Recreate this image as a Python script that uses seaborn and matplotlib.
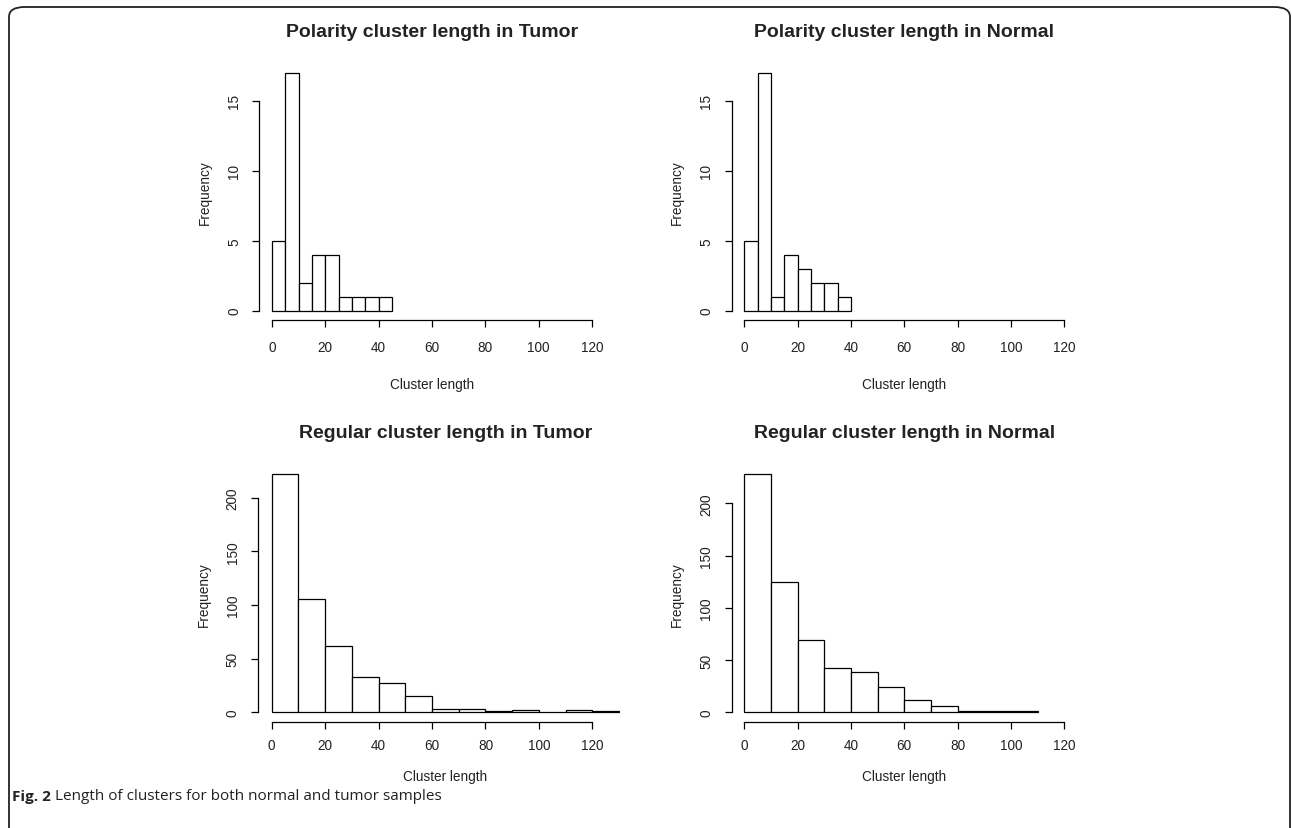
import matplotlib
matplotlib.use("Agg")
import matplotlib.pyplot as plt
import seaborn as sns
from matplotlib.patches import FancyBboxPatch

sns.set_theme(style="white")
plt.rcParams['font.family'] = ['Liberation Sans', 'DejaVu Sans']

# histogram data
polarity_edges = [0, 5, 10, 15, 20, 25, 30, 35, 40, 45]
polarity_tumor = [5, 17, 2, 4, 4, 1, 1, 1, 1]
polarity_normal_edges = [0, 5, 10, 15, 20, 25, 30, 35, 40]
polarity_normal = [5, 17, 1, 4, 3, 2, 2, 1]

regular_tumor_edges = [0, 10, 20, 30, 40, 50, 60, 70, 80, 90, 100, 110, 120, 130]
regular_tumor = [222, 106, 62, 33, 27, 15, 3, 3, 1, 2, 0, 2, 1]
regular_normal_edges = [0, 10, 20, 30, 40, 50, 60, 70, 80, 90, 100, 110]
regular_normal = [228, 125, 69, 42, 39, 24, 12, 6, 1, 1, 1]

x_ticks = [0, 20, 40, 60, 80, 100, 120]
polarity_yticks = [0, 5, 10, 15]
regular_yticks = [0, 50, 100, 150, 200]

W, H = 1292, 829
fig = plt.figure(figsize=(W / 100, H / 100), dpi=100)


def px_axes(l, r, t, b):
    return fig.add_axes([l / W, 1 - b / H, (r - l) / W, (b - t) / H])


def draw_hist(ax, edges, counts, xlim, yticks, title, xpad=9, xlabelpad=17):
    lefts = edges[:-1]
    sns.histplot(x=lefts, weights=counts, bins=edges, ax=ax, color='white',
                 edgecolor='black', linewidth=0.9, alpha=1)
    ymax = max(counts)
    ax.set_xlim(xlim[0] - 0.04 * (xlim[1] - xlim[0]), xlim[1] + 0.04 * (xlim[1] - xlim[0]))
    ax.set_ylim(-0.04 * ymax, ymax * 1.04)
    for s in ['top', 'right']:
        ax.spines[s].set_visible(False)
    for s in ['left', 'bottom']:
        ax.spines[s].set_color('black')
        ax.spines[s].set_linewidth(0.9)
    ax.spines['bottom'].set_bounds(x_ticks[0], x_ticks[-1])
    ax.spines['left'].set_bounds(yticks[0], yticks[-1])
    ax.set_xticks(x_ticks)
    ax.set_yticks(yticks)
    ax.tick_params(axis='both', direction='out', length=5, width=0.9, color='black',
                   labelsize=9.8, labelcolor='#222222', bottom=True, left=True)
    ax.tick_params(axis='x', pad=xpad)
    ax.tick_params(axis='y', pad=8)
    for lab in ax.get_yticklabels():
        lab.set_rotation(90)
        lab.set_va('center')
        lab.set_ha('right')
    ax.set_xlabel('Cluster length', fontsize=9.8, color='#222222', labelpad=xlabelpad)
    ax.set_ylabel('Frequency', fontsize=9.8, color='#222222', labelpad=11)
    ax.grid(False)
    ax.set_facecolor('white')
    pos = ax.get_position()
    fig.text(pos.x0 + pos.width / 2, pos.y1 + 32 / H, title, ha='center', va='center',
             fontsize=14, fontweight='bold', color='#222222')


ax1 = px_axes(259.2, 604.8, 64.2, 321.2)
draw_hist(ax1, polarity_edges, polarity_tumor, (0, 120), polarity_yticks,
          'Polarity cluster length in Tumor')
ax2 = px_axes(731.5, 1077, 64.2, 321.2)
draw_hist(ax2, polarity_normal_edges, polarity_normal, (0, 120), polarity_yticks,
          'Polarity cluster length in Normal')
ax3 = px_axes(257.8, 633, 465.8, 722.8)
draw_hist(ax3, regular_tumor_edges, regular_tumor, (0, 130), regular_yticks,
          'Regular cluster length in Tumor', xpad=7, xlabelpad=12)
ax4 = px_axes(731.5, 1077, 465.5, 722.8)
draw_hist(ax4, regular_normal_edges, regular_normal, (0, 120), regular_yticks,
          'Regular cluster length in Normal', xpad=7, xlabelpad=12)

# rounded frame
frame = FancyBboxPatch((9 / W, -0.02), 1281 / W, 1 - 8 / H + 0.02,
                       boxstyle="round,pad=0,rounding_size=0.012",
                       transform=fig.transFigure, fill=False, edgecolor='#222222',
                       linewidth=1.3, zorder=10)
fig.patches.append(frame)

# caption
t1 = fig.text(12 / W, 1 - 797 / H, 'Fig. 2', fontsize=11, fontweight='bold',
              family=['Open Sans', 'DejaVu Sans'], va='center', ha='left', color='#222222')
fig.canvas.draw()
bb = t1.get_window_extent()
fig.text((bb.x1 + 4) / W, 1 - 797 / H, 'Length of clusters for both normal and tumor samples',
         fontsize=11, family=['Open Sans', 'DejaVu Sans'], va='center', ha='left',
         color='#222222')

fig.savefig('out.png', dpi=100, facecolor='white')
